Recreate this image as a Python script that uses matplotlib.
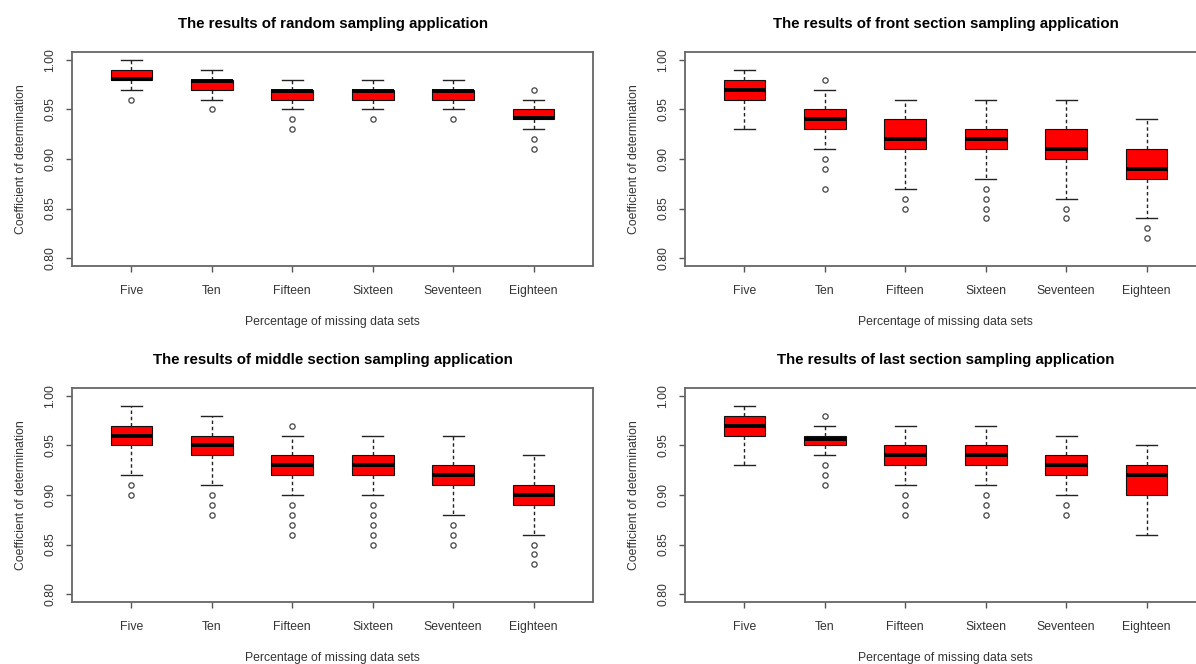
import matplotlib
matplotlib.use('Agg')
import matplotlib.pyplot as plt

plt.rcParams['font.family'] = ['Liberation Sans', 'DejaVu Sans']

categories = ['Five', 'Ten', 'Fifteen', 'Sixteen', 'Seventeen', 'Eighteen']
y_ticks = [0.80, 0.85, 0.90, 0.95, 1.00]
y_tick_labels = ['0.80', '0.85', '0.90', '0.95', '1.00']

titles = ['The results of random sampling application',
          'The results of front section sampling application',
          'The results of middle section sampling application',
          'The results of last section sampling application']

# random sampling
random_low = [0.97, 0.96, 0.95, 0.95, 0.95, 0.93]
random_q1 = [0.98, 0.97, 0.96, 0.96, 0.96, 0.94]
random_med = [0.981, 0.979, 0.969, 0.969, 0.969, 0.941]
random_q3 = [0.99, 0.98, 0.97, 0.97, 0.97, 0.95]
random_high = [1.00, 0.99, 0.98, 0.98, 0.98, 0.96]
random_fliers = [[0.96], [0.95], [0.94, 0.93], [0.94], [0.94], [0.97, 0.92, 0.91]]

# front section sampling
front_low = [0.93, 0.91, 0.87, 0.88, 0.86, 0.84]
front_q1 = [0.96, 0.93, 0.91, 0.91, 0.90, 0.88]
front_med = [0.97, 0.94, 0.92, 0.92, 0.91, 0.89]
front_q3 = [0.98, 0.95, 0.94, 0.93, 0.93, 0.91]
front_high = [0.99, 0.97, 0.96, 0.96, 0.96, 0.94]
front_fliers = [[], [0.98, 0.90, 0.89, 0.87], [0.86, 0.85],
                [0.87, 0.86, 0.85, 0.84], [0.85, 0.84], [0.83, 0.82]]

# middle section sampling
middle_low = [0.92, 0.91, 0.90, 0.90, 0.88, 0.86]
middle_q1 = [0.95, 0.94, 0.92, 0.92, 0.91, 0.89]
middle_med = [0.96, 0.95, 0.93, 0.93, 0.92, 0.90]
middle_q3 = [0.97, 0.96, 0.94, 0.94, 0.93, 0.91]
middle_high = [0.99, 0.98, 0.96, 0.96, 0.96, 0.94]
middle_fliers = [[0.91, 0.90], [0.90, 0.89, 0.88], [0.97, 0.89, 0.88, 0.87, 0.86],
                 [0.89, 0.88, 0.87, 0.86, 0.85], [0.87, 0.86, 0.85], [0.85, 0.84, 0.83]]

# last section sampling
last_low = [0.93, 0.94, 0.91, 0.91, 0.90, 0.86]
last_q1 = [0.96, 0.95, 0.93, 0.93, 0.92, 0.90]
last_med = [0.97, 0.957, 0.94, 0.94, 0.93, 0.92]
last_q3 = [0.98, 0.96, 0.95, 0.95, 0.94, 0.93]
last_high = [0.99, 0.97, 0.97, 0.97, 0.96, 0.95]
last_fliers = [[], [0.98, 0.93, 0.92, 0.91], [0.90, 0.89, 0.88],
               [0.90, 0.89, 0.88], [0.89, 0.88], []]

panels = [
    (random_low, random_q1, random_med, random_q3, random_high, random_fliers),
    (front_low, front_q1, front_med, front_q3, front_high, front_fliers),
    (middle_low, middle_q1, middle_med, middle_q3, middle_high, middle_fliers),
    (last_low, last_q1, last_med, last_q3, last_high, last_fliers),
]

fig = plt.figure(figsize=(11.96, 6.64), dpi=100)

W, H = 1196, 664
ax_w = 521 / W
ax_h = 214 / H
lefts = [72 / W, 685 / W]
bottoms = [1 - 266 / H, 1 - 602 / H]

for i, (lo, q1, med, q3, hi, fl) in enumerate(panels):
    row, col = divmod(i, 2)
    ax = fig.add_axes([lefts[col], bottoms[row], ax_w, ax_h])

    stats = []
    for k in range(len(categories)):
        stats.append({'whislo': lo[k], 'q1': q1[k], 'med': med[k], 'q3': q3[k],
                      'whishi': hi[k], 'fliers': fl[k]})

    ax.bxp(stats, positions=range(1, 7), widths=0.52, patch_artist=True,
           boxprops=dict(facecolor='#ff0000', edgecolor='#111111', linewidth=0.8),
           medianprops=dict(color='black', linewidth=2.8, solid_capstyle='butt'),
           whiskerprops=dict(color='#222222', linewidth=1.0, linestyle=(0, (2.5, 2))),
           capprops=dict(color='#222222', linewidth=1.0),
           flierprops=dict(marker='o', markersize=3.8, markerfacecolor='none',
                           markeredgecolor='#444444', markeredgewidth=0.9))

    ax.set_xlim(0.26, 6.74)
    ax.set_ylim(0.792, 1.008)
    ax.set_xticks(range(1, 7))
    ax.set_xticklabels(categories)
    ax.set_yticks(y_ticks)
    ax.set_yticklabels(y_tick_labels, rotation=90, va='center')

    ax.tick_params(axis='both', labelsize=8.8, labelcolor='#333333', color='#555555',
                   length=4, width=1.0)
    ax.tick_params(axis='x', pad=9.7)
    ax.tick_params(axis='y', pad=7.5)
    for sp in ax.spines.values():
        sp.set_color('#666666')
        sp.set_linewidth(1.3)

    ax.set_title(titles[i], fontsize=10.8, fontweight='bold', pad=17)
    ax.set_xlabel('Percentage of missing data sets', fontsize=8.8, color='#333333',
                  labelpad=14)
    ax.set_ylabel('Coefficient of determination', fontsize=8.8, color='#333333',
                  labelpad=12)

fig.savefig('out.png', dpi=100)
